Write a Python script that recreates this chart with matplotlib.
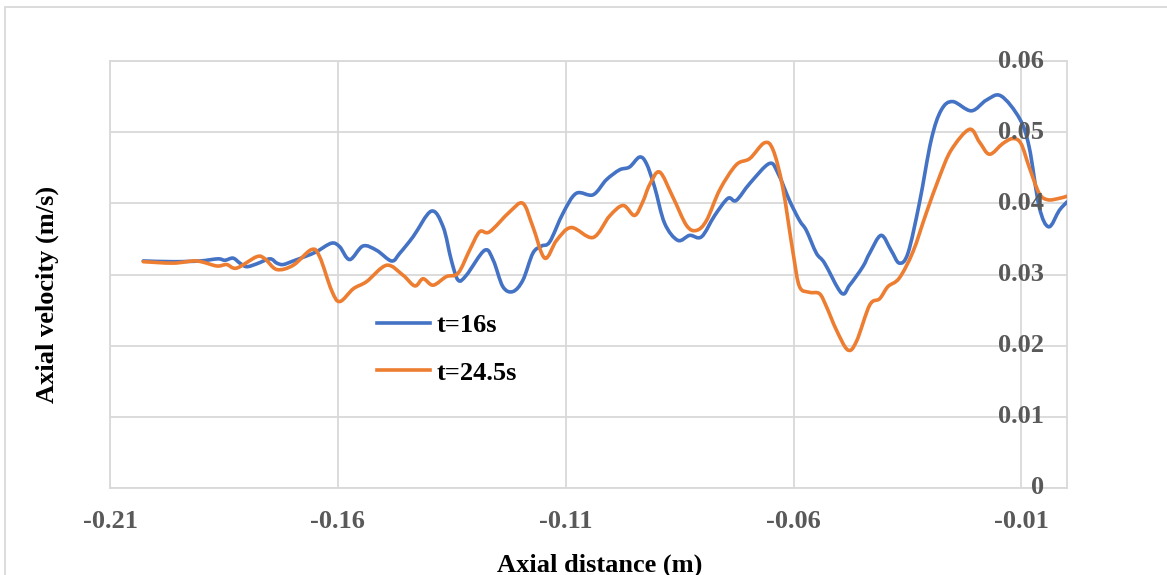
import numpy as np
import matplotlib
matplotlib.use("Agg")
import matplotlib.pyplot as plt
from matplotlib.path import Path
from matplotlib.patches import PathPatch, Rectangle
from matplotlib.lines import Line2D
from matplotlib.transforms import blended_transform_factory

# ---- data -------------------------------------------------------------
x_t16 = [-0.2027, -0.1961, -0.1903, -0.1863, -0.1848, -0.1830, -0.1815, -0.1800,
         -0.1778, -0.1749, -0.1734, -0.1720, -0.1698, -0.1669, -0.1647, -0.1614,
         -0.1596, -0.1574, -0.1545, -0.1515, -0.1482, -0.1464, -0.1435, -0.1395,
         -0.1369, -0.1351, -0.1336, -0.1318, -0.1278, -0.1259, -0.1238, -0.1216,
         -0.1194, -0.1172, -0.1153, -0.1135, -0.1106, -0.1077, -0.1040, -0.1011,
         -0.0982, -0.0960, -0.0938, -0.0923, -0.0905, -0.0883, -0.0854, -0.0828,
         -0.0802, -0.0773, -0.0744, -0.0726, -0.0696, -0.0653, -0.0634, -0.0609,
         -0.0587, -0.0572, -0.0550, -0.0532, -0.0495, -0.0477, -0.0448, -0.0433,
         -0.0408, -0.0386, -0.0368, -0.0349, -0.0324, -0.0298, -0.0276, -0.0251,
         -0.0210, -0.0177, -0.0145, -0.0104, -0.0083, -0.0061, -0.0040, -0.0017,
         0.0000]
v_t16 = [0.0319, 0.0318, 0.0319, 0.0322, 0.0320, 0.0323, 0.0316, 0.0311,
         0.0315, 0.0322, 0.0316, 0.0314, 0.0319, 0.0326, 0.0332, 0.0344,
         0.0339, 0.0321, 0.0340, 0.0334, 0.0319, 0.0330, 0.0353, 0.0389,
         0.0367, 0.0320, 0.0292, 0.0299, 0.0334, 0.0320, 0.0283, 0.0276,
         0.0292, 0.0330, 0.0340, 0.0346, 0.0386, 0.0414, 0.0412, 0.0433,
         0.0447, 0.0451, 0.0465, 0.0456, 0.0423, 0.0372, 0.0348, 0.0355,
         0.0353, 0.0383, 0.0407, 0.0404, 0.0428, 0.0456, 0.0442, 0.0404,
         0.0376, 0.0362, 0.0330, 0.0316, 0.0274, 0.0285, 0.0311, 0.0330,
         0.0355, 0.0334, 0.0316, 0.0330, 0.0400, 0.0489, 0.0531, 0.0543,
         0.0530, 0.0545, 0.0551, 0.0519, 0.0479, 0.0395, 0.0367, 0.0390,
         0.0402]

x_t245 = [-0.2027, -0.1961, -0.1910, -0.1866, -0.1844, -0.1822, -0.1778, -0.1760,
          -0.1734, -0.1698, -0.1658, -0.1640, -0.1614, -0.1596, -0.1566, -0.1537,
          -0.1493, -0.1457, -0.1431, -0.1413, -0.1391, -0.1362, -0.1336, -0.1311,
          -0.1289, -0.1267, -0.1223, -0.1194, -0.1172, -0.1146, -0.1120, -0.1088,
          -0.1040, -0.1004, -0.0974, -0.0949, -0.0931, -0.0916, -0.0894, -0.0865,
          -0.0835, -0.0813, -0.0791, -0.0762, -0.0726, -0.0696, -0.0664, -0.0645,
          -0.0624, -0.0601, -0.0587, -0.0565, -0.0543, -0.0528, -0.0506, -0.0481,
          -0.0462, -0.0433, -0.0411, -0.0393, -0.0368, -0.0338, -0.0309, -0.0280,
          -0.0254, -0.0214, -0.0192, -0.0170, -0.0141, -0.0119, -0.0101, -0.0083,
          -0.0061, -0.0042, -0.0017, 0.0000]
v_t245 = [0.0318, 0.0316, 0.0319, 0.0312, 0.0314, 0.0309, 0.0325, 0.0322,
          0.0307, 0.0313, 0.0335, 0.0325, 0.0278, 0.0262, 0.0280, 0.0290,
          0.0313, 0.0299, 0.0284, 0.0294, 0.0285, 0.0297, 0.0302, 0.0334,
          0.0360, 0.0360, 0.0388, 0.0400, 0.0367, 0.0323, 0.0348, 0.0366,
          0.0352, 0.0382, 0.0397, 0.0383, 0.0402, 0.0426, 0.0444, 0.0409,
          0.0369, 0.0362, 0.0376, 0.0419, 0.0454, 0.0463, 0.0485, 0.0475,
          0.0423, 0.0330, 0.0283, 0.0275, 0.0273, 0.0255, 0.0222, 0.0194,
          0.0206, 0.0257, 0.0266, 0.0283, 0.0295, 0.0332, 0.0386, 0.0437,
          0.0475, 0.0504, 0.0486, 0.0469, 0.0484, 0.0491, 0.0484, 0.0451,
          0.0414, 0.0405, 0.0407, 0.0410]

series_labels = ["t=16s", "t=24.5s"]
series_colors = ["#4472C4", "#ED7D31"]

x_ticks = [-0.21, -0.16, -0.11, -0.06, -0.01]
x_ticklabels = ["-0.21", "-0.16", "-0.11", "-0.06", "-0.01"]
y_ticks = [0.0, 0.01, 0.02, 0.03, 0.04, 0.05, 0.06]
y_ticklabels = ["0", "0.01", "0.02", "0.03", "0.04", "0.05", "0.06"]

x_title = "Axial distance (m)"
y_title = "Axial velocity (m/s)"

# ---- styling ----------------------------------------------------------
SERIF = ["Liberation Serif", "DejaVu Serif"]
FS = 19
GRID = "#D9D9D9"
TICK_COLOR = "#595959"
W, H = 1167, 575


def smooth_path(xs, ys):
    """Cubic Bezier path through the points (smoothed polyline)."""
    pts = np.column_stack([xs, ys]).astype(float)
    verts = [pts[0]]
    codes = [Path.MOVETO]
    n = len(pts)
    for i in range(n - 1):
        p0 = pts[i - 1] if i > 0 else pts[i]
        p1 = pts[i]
        p2 = pts[i + 1]
        p3 = pts[i + 2] if i + 2 < n else pts[i + 1]
        c1 = p1 + (p2 - p0) / 6.0
        c2 = p2 - (p3 - p1) / 6.0
        verts += [c1, c2, p2]
        codes += [Path.CURVE4] * 3
    return Path(verts, codes)


fig = plt.figure(figsize=(W / 100, H / 100), dpi=100)
fig.patch.set_facecolor("white")

left, right, top, bottom = 110, 1067, 61, 488
ax = fig.add_axes([left / W, 1 - bottom / H, (right - left) / W, (bottom - top) / H])

ax.set_xlim(-0.21, 0.0)
ax.set_ylim(0.0, 0.06)

ax.set_xticks(x_ticks)
ax.set_yticks(y_ticks)
ax.grid(True, color=GRID, lw=1.3)
ax.set_axisbelow(True)
for s in ax.spines.values():
    s.set_color(GRID)
    s.set_linewidth(1.3)

ax.tick_params(axis="both", length=0)
ax.set_xticklabels(x_ticklabels, fontfamily=SERIF, fontweight="bold",
                   fontsize=FS, color=TICK_COLOR)
ax.tick_params(axis="x", pad=16)
ax.set_yticklabels([])

# value labels for the vertical axis, placed next to the x=-0.01 crossing
ytrans = blended_transform_factory(ax.transAxes, ax.transData)
for v, lab in zip(y_ticks, y_ticklabels):
    ax.text((1044 - left) / (right - left), v, lab, transform=ytrans,
            ha="right", va="center", fontfamily=SERIF, fontweight="bold",
            fontsize=FS, color=TICK_COLOR, zorder=5)

# smoothed series lines
for xs, ys, c in [(x_t16, v_t16, series_colors[0]),
                  (x_t245, v_t245, series_colors[1])]:
    patch = PathPatch(smooth_path(xs, ys), fill=False, edgecolor=c, lw=2.6,
                      capstyle="round", joinstyle="round", zorder=3,
                      transform=ax.transData)
    ax.add_patch(patch)

# axis titles
fig.text(600 / W, 1 - 565 / H, x_title, ha="center", va="center",
         fontfamily=SERIF, fontweight="bold", fontsize=FS, color="black")
fig.text(47 / W, 1 - 294 / H, y_title, ha="center", va="center", rotation=90,
         fontfamily=SERIF, fontweight="bold", fontsize=FS, color="black")

# legend
handles = [Line2D([], [], color=c, lw=2.6) for c in series_colors]
leg = ax.legend(handles, series_labels, loc="upper left",
                bbox_to_anchor=(377 / W, 1 - 314 / H),
                bbox_transform=fig.transFigure, frameon=False,
                prop={"family": SERIF, "weight": "bold", "size": FS},
                handlelength=2.0, handletextpad=0.25, labelspacing=0.9,
                borderpad=0.0, borderaxespad=0.0)

# chart border
fig.patches.append(Rectangle((5 / W, -0.05), 1.2, 1 - 7 / H + 0.05,
                             transform=fig.transFigure, fill=False,
                             edgecolor=GRID, lw=1.3))

fig.savefig("out.png", dpi=100, facecolor="white")
